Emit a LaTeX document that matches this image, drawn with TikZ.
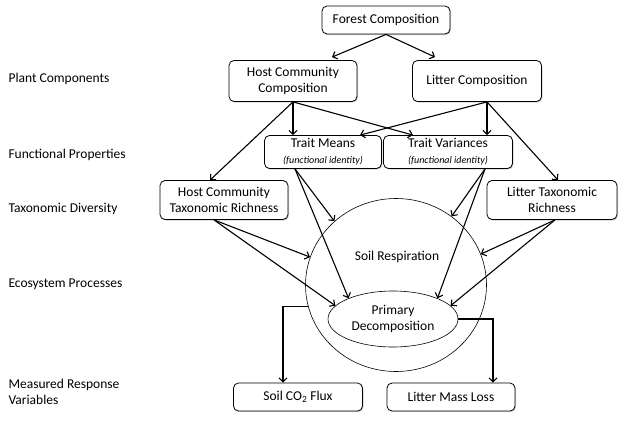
\documentclass[tikz,border=0pt]{standalone}
\usepackage{fontspec}
\setmainfont{Carlito}
\usetikzlibrary{calc, shapes.geometric, shadows, arrows.meta}

\begin{document}
\begin{tikzpicture}[x=1pt, y=-1pt, font=\fontsize{13.5}{16}\selectfont,
	box/.style={draw, rounded corners=5pt, fill=white, line width=0.8pt, align=center, inner sep=1pt,
		drop shadow={shadow xshift=1pt, shadow yshift=-1.2pt, fill=black!35}},
	layer/.style={anchor=west, align=left},
	link/.style={line width=1.1pt, -{Straight Barb[length=4pt, width=8pt]}}]
	\useasboundingbox (0,0) rectangle (621,423);
	
	%layer labels
	\node[layer] (plant) at (5,79) {Plant Components};
	\node[layer] (functional) at (5,155) {Functional Properties};
	\node[layer] (taxonomic) at (5,209) {Taxonomic Diversity};
	\node[layer] (processes) at (5,284) {Ecosystem Processes};
	\node[layer] (response) at (5,392) {Measured Response\\Variables};
	
	%boxes
	\node[box, minimum width=128pt, minimum height=28pt] (forest) at (386,20) {Forest Composition};
	\node[box, minimum width=128pt, minimum height=41pt] (hostcomp) at (293,81) {Host Community\\Composition};
	\node[box, minimum width=129pt, minimum height=41pt] (littercomp) at (477,81) {Litter Composition};
	\node[box, minimum width=117pt, minimum height=33pt] (means) at (323,152)
		{Trait Means\\{\fontsize{10}{12}\selectfont\itshape (functional identity)}};
	\node[box, minimum width=129pt, minimum height=33pt] (vars) at (448,152)
		{Trait Variances\\{\fontsize{10}{12}\selectfont\itshape (functional identity)}};
	\node[box, minimum width=128pt, minimum height=39pt] (hostrich) at (224,200) {Host Community\\Taxonomic Richness};
	\node[box, minimum width=130pt, minimum height=39pt] (litterrich) at (552,200) {Litter Taxonomic\\Richness};
	
	%processes
	\node[draw, ellipse, minimum width=181pt, minimum height=173pt, line width=0.6pt] (resp) at (396,285) {};
	\node (resplabel) at (397,257) {Soil Respiration};
	\node[draw, ellipse, minimum width=130pt, minimum height=56pt, line width=0.6pt, align=center] (decomp) at (393,319)
		{Primary\\Decomposition};
	
	%responses
	\node[box, minimum width=129pt, minimum height=28pt] (flux) at (298,397) {Soil CO\textsubscript{2} Flux};
	\node[box, minimum width=128pt, minimum height=28pt] (massloss) at (451,397) {Litter Mass Loss};
	
	%sources
	\coordinate (lcs) at ($(littercomp.south)+(10,0)$);
	\coordinate (ms) at ($(means.south)+(-28,0)$);
	\coordinate (vs) at ($(vars.south)+(37,0)$);
	\coordinate (hrs) at ($(hostrich.south)+(-10,0)$);
	\coordinate (lrs) at ($(litterrich.south)+(3,0)$);
	
	%links
	\draw[link] (forest.south) -- ($(hostcomp.north)+(39,-3)$);
	\draw[link] (forest.south) -- ($(littercomp.north)+(-42,-3)$);
	\draw[link] (hostcomp.south) -- (hostcomp.south |- means.north);
	\draw[link] (hostcomp.south) -- ($(vars.north)+(-35,0)$);
	\draw[link] (hostcomp.south) -- ($(hostrich.north)+(-14,0)$);
	\draw[link] (lcs) -- ($(means.north)+(37,0)$);
	\draw[link] (lcs) -- (lcs |- vars.north);
	\draw[link] (lcs) -- ($(litterrich.north)+(6,0)$);
	\draw[link] (ms) -- (resp.134);
	\draw[link] (ms) -- (decomp.155);
	\draw[link] (vs) -- (resp.51);
	\draw[link] (vs) -- (decomp.25);
	\draw[link] (hrs) -- (resp.162);
	\draw[link] (hrs) -- (decomp.167);
	\draw[link] (lrs) -- (resp.20);
	\draw[link] (lrs) -- (decomp.13);
	%
	\draw[link] (resp.194) -| ($(flux.north)+(-15,0)$);
	\draw[link] (decomp.east) -| ($(massloss.north)+(42,0)$);
\end{tikzpicture}
\end{document}
